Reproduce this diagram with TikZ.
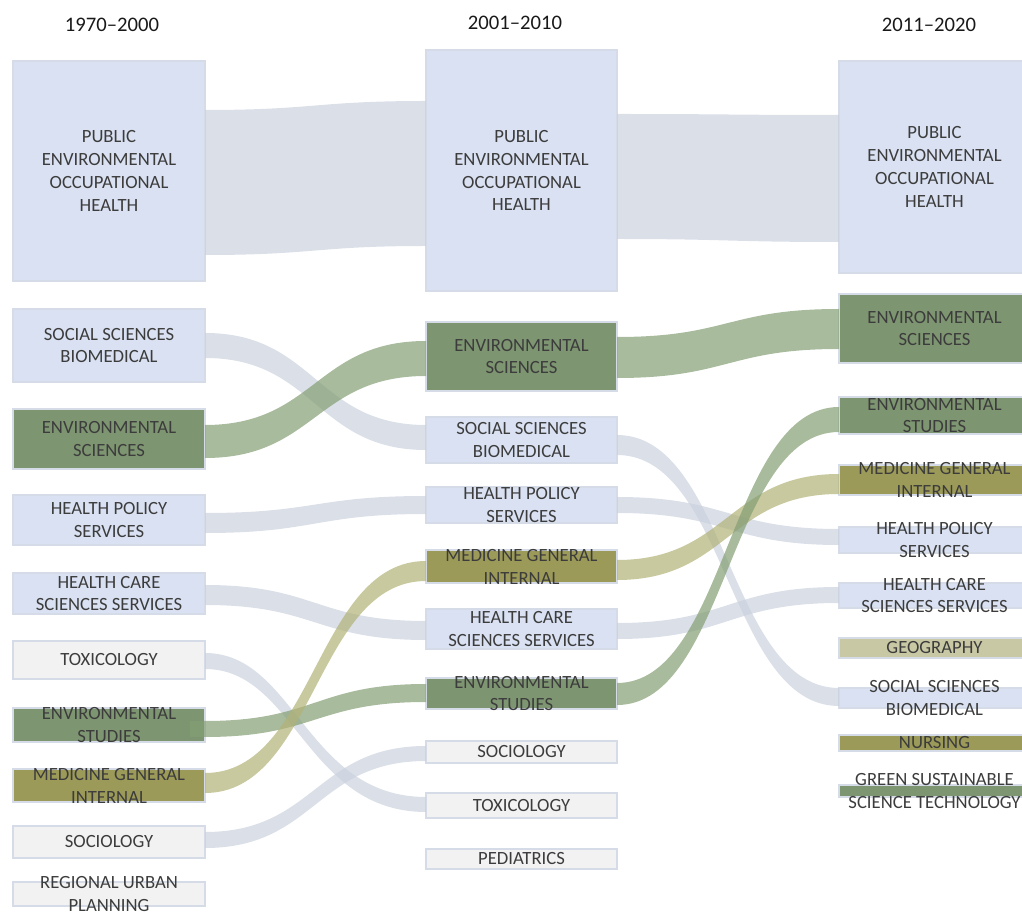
\documentclass[tikz,border=0pt]{standalone}
\usepackage{fontspec}
\setmainfont{Carlito}
\usetikzlibrary{calc}
\definecolor{bluebox}{HTML}{D9E1F2}
\definecolor{greenbox}{HTML}{7E9571}
\definecolor{olivebox}{HTML}{9C9A58}
\definecolor{greybox}{HTML}{F2F2F2}
\definecolor{geobox}{HTML}{C9C8A4}
\definecolor{edgecol}{HTML}{D5DCE7}
\definecolor{flowgrey}{HTML}{CBD2DE}
\definecolor{flowgreen}{HTML}{839E73}
\definecolor{flowolive}{HTML}{B2B277}
\definecolor{txt}{HTML}{3C3C3C}
\tikzset{
  boxbase/.style={draw=edgecol, line width=1pt, inner sep=0pt, outer sep=0pt, rectangle},
  bbox/.style={boxbase, fill=bluebox},
  gbox/.style={boxbase, fill=greenbox},
  obox/.style={boxbase, fill=olivebox},
  ybox/.style={boxbase, fill=greybox},
  geo/.style={boxbase, fill=geobox},
  lab/.style={text=txt, align=center, inner sep=0pt, font=\fontsize{14}{17.2}\selectfont},
  hdr/.style={text=black!90, inner sep=0pt, font=\fontsize{15.5}{18}\selectfont},
  fgrey/.style={fill=flowgrey, fill opacity=0.7},
  fgreen/.style={fill=flowgreen, fill opacity=0.7},
  folive/.style={fill=flowolive, fill opacity=0.7},
}
% box: name, x1, y1, x2, y2, style, text
\newcommand\bx[7]{%
  \node[#6, minimum width={(#4-#2)*0.75pt}, minimum height={(#5-#3)*0.75pt}] (#1) at ({(#2+#4)/2},{(#3+#5)/2}) {};
  \node[lab] (#1-t) at (#1.center) {#7};}
% flow: node a, top, bottom, node b, top, bottom, style
\newcommand\flowband[7]{%
  \fill[#7] (#1.east |- 0,#2) .. controls +(110,0) and +(-110,0) .. (#4.west |- 0,#5)
    -- (#4.west |- 0,#6) .. controls +(-110,0) and +(110,0) .. (#1.east |- 0,#3) -- cycle;}
\begin{document}
\begin{tikzpicture}[x=0.75pt,y=-0.75pt]
\useasboundingbox (0,0) rectangle (1022,912);
% headers
\node[hdr] (h1) at (112,25) {1970–2000};
\node[hdr] (h2) at (515,23) {2001–2010};
\node[hdr] (h3) at (929,25) {2011–2020};
% left column
\bx{lPH}{13}{61}{205}{281}{bbox}{PUBLIC\\ENVIRONMENTAL\\OCCUPATIONAL\\HEALTH}
\bx{lSSB}{13}{309}{205}{382}{bbox}{SOCIAL SCIENCES\\BIOMEDICAL}
\bx{lES}{13}{409}{205}{469}{gbox}{ENVIRONMENTAL\\SCIENCES}
\bx{lHPS}{13}{495}{205}{545}{bbox}{HEALTH POLICY\\SERVICES}
\bx{lHCS}{13}{573}{205}{614}{bbox}{HEALTH CARE\\SCIENCES SERVICES}
\bx{lTOX}{13}{641}{205}{679}{ybox}{TOXICOLOGY}
\bx{lEST}{13}{708}{205}{742}{gbox}{ENVIRONMENTAL\\STUDIES}
\bx{lMGI}{13}{769}{205}{802}{obox}{MEDICINE GENERAL\\INTERNAL}
\bx{lSOC}{13}{826}{205}{858}{ybox}{SOCIOLOGY}
\bx{lRUP}{13}{882}{205}{906}{ybox}{REGIONAL URBAN\\PLANNING}
% middle column
\bx{mPH}{426}{50}{617}{291}{bbox}{PUBLIC\\ENVIRONMENTAL\\OCCUPATIONAL\\HEALTH}
\bx{mES}{426}{322}{617}{391}{gbox}{ENVIRONMENTAL\\SCIENCES}
\bx{mSSB}{426}{417}{617}{463}{bbox}{SOCIAL SCIENCES\\BIOMEDICAL}
\bx{mHPS}{426}{487}{617}{523}{bbox}{HEALTH POLICY\\SERVICES}
\bx{mMGI}{426}{550}{617}{583}{obox}{MEDICINE GENERAL\\INTERNAL}
\bx{mHCS}{426}{609}{617}{649}{bbox}{HEALTH CARE\\SCIENCES SERVICES}
\bx{mEST}{426}{678}{617}{709}{gbox}{ENVIRONMENTAL\\STUDIES}
\bx{mSOC}{426}{741}{617}{763}{ybox}{SOCIOLOGY}
\bx{mTOX}{426}{793}{617}{818}{ybox}{TOXICOLOGY}
\bx{mPED}{426}{849}{617}{869}{ybox}{PEDIATRICS}
% right column
\bx{rPH}{839}{61}{1030}{273}{bbox}{PUBLIC\\ENVIRONMENTAL\\OCCUPATIONAL\\HEALTH}
\bx{rES}{839}{294}{1030}{363}{gbox}{ENVIRONMENTAL\\SCIENCES}
\bx{rEST}{839}{397}{1030}{434}{gbox}{ENVIRONMENTAL\\STUDIES}
\bx{rMGI}{839}{465}{1030}{495}{obox}{MEDICINE GENERAL\\INTERNAL}
\bx{rHPS}{839}{527}{1030}{553}{bbox}{HEALTH POLICY\\SERVICES}
\bx{rHCS}{839}{583}{1030}{608}{bbox}{HEALTH CARE\\SCIENCES SERVICES}
\bx{rGEO}{839}{638}{1030}{658}{geo}{GEOGRAPHY}
\bx{rSSB}{839}{688}{1030}{708}{bbox}{SOCIAL SCIENCES\\BIOMEDICAL}
\bx{rNUR}{839}{735}{1030}{751}{obox}{NURSING}
\bx{rGST}{839}{785}{1030}{797}{gbox}{GREEN SUSTAINABLE\\SCIENCE TECHNOLOGY}
% flows left -> middle
\flowband{lPH}{110}{255}{mPH}{101}{246}{fgrey}
\flowband{lSSB}{333}{358}{mSSB}{425}{450}{fgrey}
\flowband{lES}{425}{458}{mES}{341}{376}{fgreen}
\flowband{lHPS}{513}{533}{mHPS}{496}{514}{fgrey}
\flowband{lHCS}{585}{605}{mHCS}{621}{640}{fgrey}
\fill[fgrey] (lTOX.east |- 0,653) .. controls +(90,0) and +(-120,0) .. (mTOX.west |- 0,797)
    -- (mTOX.west |- 0,812) .. controls +(-120,0) and +(90,0) .. (lTOX.east |- 0,669) -- cycle;
\fill[fgreen] ($(lEST.east |- 0,721)+(-15,0)$) -- (lEST.east |- 0,721)
   .. controls +(110,0) and +(-110,0) .. (mEST.west |- 0,684)
   -- (mEST.west |- 0,702) .. controls +(-110,0) and +(110,0) .. (lEST.east |- 0,737)
   -- ($(lEST.east |- 0,737)+(-15,0)$) -- cycle;
\flowband{lMGI}{773}{793}{mMGI}{561}{581}{folive}
\flowband{lSOC}{832}{848}{mSOC}{746}{761}{fgrey}
% flows middle -> right
\flowband{mPH}{114}{239}{rPH}{115}{242}{fgrey}
\flowband{mES}{337}{378}{rES}{309}{349}{fgreen}
\flowband{mSSB}{435}{455}{rSSB}{688}{706}{fgrey}
\flowband{mHPS}{497}{513}{rHPS}{529}{545}{fgrey}
\flowband{mMGI}{560}{580}{rMGI}{474}{494}{folive}
\flowband{mHCS}{623}{639}{rHCS}{587}{603}{fgrey}
\flowband{mEST}{683}{705}{rEST}{407}{432}{fgreen}
\end{tikzpicture}
\end{document}
